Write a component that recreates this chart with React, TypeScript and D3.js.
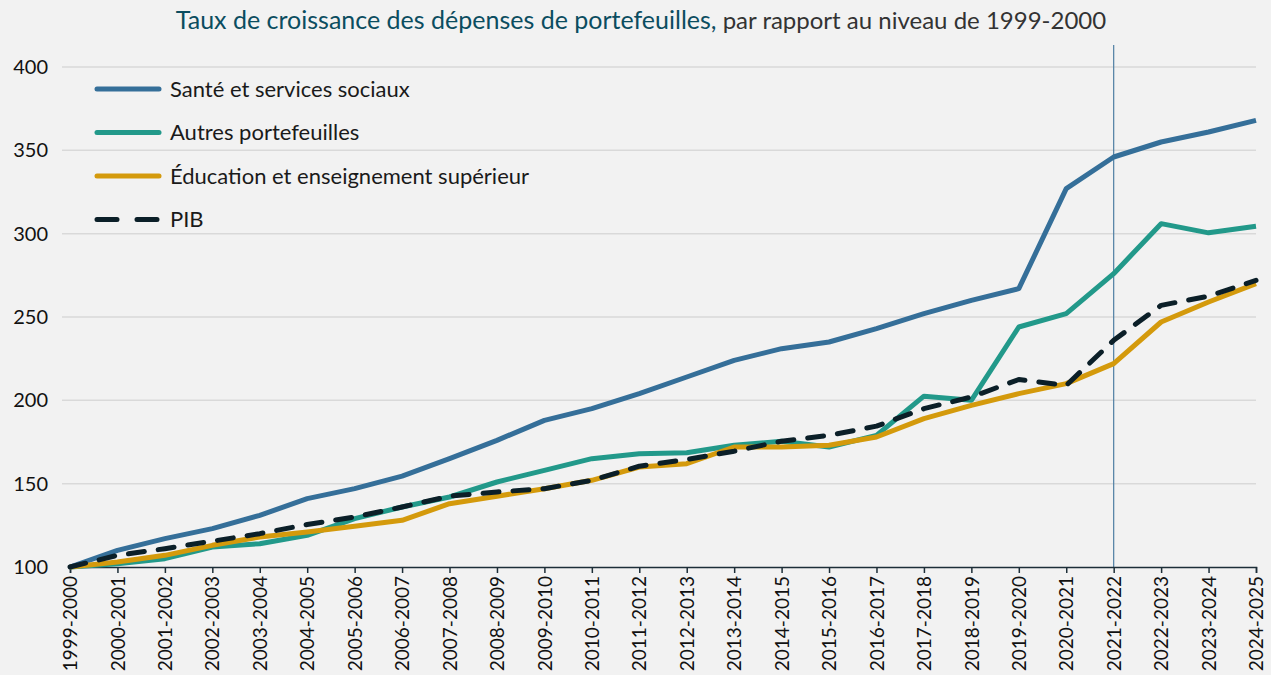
import { useEffect, useRef } from 'react';
import * as d3 from 'd3';

const years = [
  '1999-2000', '2000-2001', '2001-2002', '2002-2003', '2003-2004', '2004-2005',
  '2005-2006', '2006-2007', '2007-2008', '2008-2009', '2009-2010', '2010-2011',
  '2011-2012', '2012-2013', '2013-2014', '2014-2015', '2015-2016', '2016-2017',
  '2017-2018', '2018-2019', '2019-2020', '2020-2021', '2021-2022', '2022-2023',
  '2023-2024', '2024-2025',
];

const sante = [100, 110, 117, 123, 131, 141, 147, 154.5, 165, 176, 188, 195, 204, 214, 224, 231, 235, 243, 252, 260, 267, 327, 346, 355, 361, 368];
const autres = [100, 102, 105, 112, 114, 119, 129, 136, 142, 151, 158, 165, 168, 168.5, 173, 175.5, 172, 179, 202.5, 200, 244, 252, 276, 306, 300.5, 304.5];
const education = [100, 103, 107, 113, 118, 121, 124.5, 128, 138, 142.5, 147, 152, 160, 162, 172, 172, 173, 178, 189, 197, 204, 210, 222, 247, 259, 270];
const pib = [100, 107, 111, 115.5, 120, 125.5, 130, 136, 142.5, 145, 147, 152, 160.5, 164.5, 169.5, 175.5, 179, 184.5, 195, 202, 212.5, 209, 236, 257, 262.5, 272];

const yTicks = [100, 150, 200, 250, 300, 350, 400];
const markerYear = '2021-2022';

const series = [
  { name: 'Santé et services sociaux', values: sante, color: '#356f99', dash: null },
  { name: 'Autres portefeuilles', values: autres, color: '#22998a', dash: null },
  { name: 'Éducation et enseignement supérieur', values: education, color: '#d49a0c', dash: null },
  { name: 'PIB', values: pib, color: '#0b1f28', dash: '16,14' },
];

const FONT = 'Lato, "Open Sans", sans-serif';

export default function App() {
  const svgRef = useRef<SVGSVGElement>(null);

  useEffect(() => {
    document.body.style.margin = '0';
    if (!svgRef.current) return;
    const svg = d3.select(svgRef.current);
    svg.selectAll('*').remove();

    const width = 1271;
    const height = 675;

    svg.append('rect').attr('width', width).attr('height', height).attr('fill', '#f2f2f2');

    const x = d3.scalePoint<string>().domain(years).range([70, 1256]);
    const y = d3.scaleLinear().domain([100, 400]).range([567, 67]);

    // title
    const title = svg.append('text')
      .attr('x', 641)
      .attr('y', 29)
      .attr('text-anchor', 'middle')
      .attr('font-family', FONT);
    title.append('tspan')
      .attr('fill', '#0b4d60')
      .attr('font-size', '25px')
      .text('Taux de croissance des dépenses de portefeuilles,');
    title.append('tspan')
      .attr('fill', '#333')
      .attr('font-size', '24px')
      .text(' par rapport au niveau de 1999-2000');

    // grid
    svg.append('g')
      .selectAll('line')
      .data(yTicks.filter(d => d !== 100))
      .join('line')
      .attr('x1', 62)
      .attr('x2', 1256)
      .attr('y1', d => y(d))
      .attr('y2', d => y(d))
      .attr('stroke', '#d9d9d9')
      .attr('stroke-width', 1.5);

    // y labels
    svg.append('g')
      .selectAll('text')
      .data(yTicks)
      .join('text')
      .attr('x', 48)
      .attr('y', d => y(d))
      .attr('dy', '0.35em')
      .attr('text-anchor', 'end')
      .attr('font-family', FONT)
      .attr('font-size', '20px')
      .attr('fill', '#111')
      .text(d => d);

    // vertical marker
    svg.append('line')
      .attr('x1', x(markerYear)!)
      .attr('x2', x(markerYear)!)
      .attr('y1', 45)
      .attr('y2', y(100))
      .attr('stroke', '#4f7ea3')
      .attr('stroke-width', 1.2);

    // x axis
    const xAxis = svg.append('g')
      .attr('transform', `translate(0,${y(100)})`)
      .call(d3.axisBottom(x).tickSize(6).tickPadding(8));
    xAxis.select('.domain').attr('stroke', '#1d2e38').attr('stroke-width', 1.5);
    xAxis.selectAll('.tick line').attr('stroke', '#1d2e38').attr('stroke-width', 1.5);
    xAxis.selectAll('.tick text')
      .attr('font-family', FONT)
      .attr('font-size', '19px')
      .attr('fill', '#111')
      .attr('transform', 'rotate(-90)')
      .attr('text-anchor', 'end')
      .attr('x', -9)
      .attr('y', 0)
      .attr('dy', '0.35em');

    const line = d3.line<number>()
      .x((_, i) => x(years[i])!)
      .y(d => y(d));

    series.forEach(s => {
      svg.append('path')
        .datum(s.values)
        .attr('fill', 'none')
        .attr('stroke', s.color)
        .attr('stroke-width', 5)
        .attr('stroke-linejoin', 'round')
        .attr('stroke-linecap', s.dash ? 'round' : 'butt')
        .attr('stroke-dasharray', s.dash)
        .attr('d', line);
    });

    // legend
    const legend = svg.append('g')
      .selectAll('g')
      .data(series)
      .join('g')
      .attr('transform', (_, i) => `translate(95,${89 + i * 43.5})`);

    legend.append('line')
      .attr('x1', 2)
      .attr('x2', 64)
      .attr('stroke', d => d.color)
      .attr('stroke-width', 5)
      .attr('stroke-linecap', 'round')
      .attr('stroke-dasharray', d => d.dash ? '20,20' : null);

    legend.append('text')
      .attr('x', 75)
      .attr('dy', '0.35em')
      .attr('font-family', FONT)
      .attr('font-size', '22px')
      .attr('fill', '#1a1a1a')
      .text(d => d.name);
  }, []);

  return <svg ref={svgRef} width={1271} height={675} style={{ display: 'block' }} />;
}
